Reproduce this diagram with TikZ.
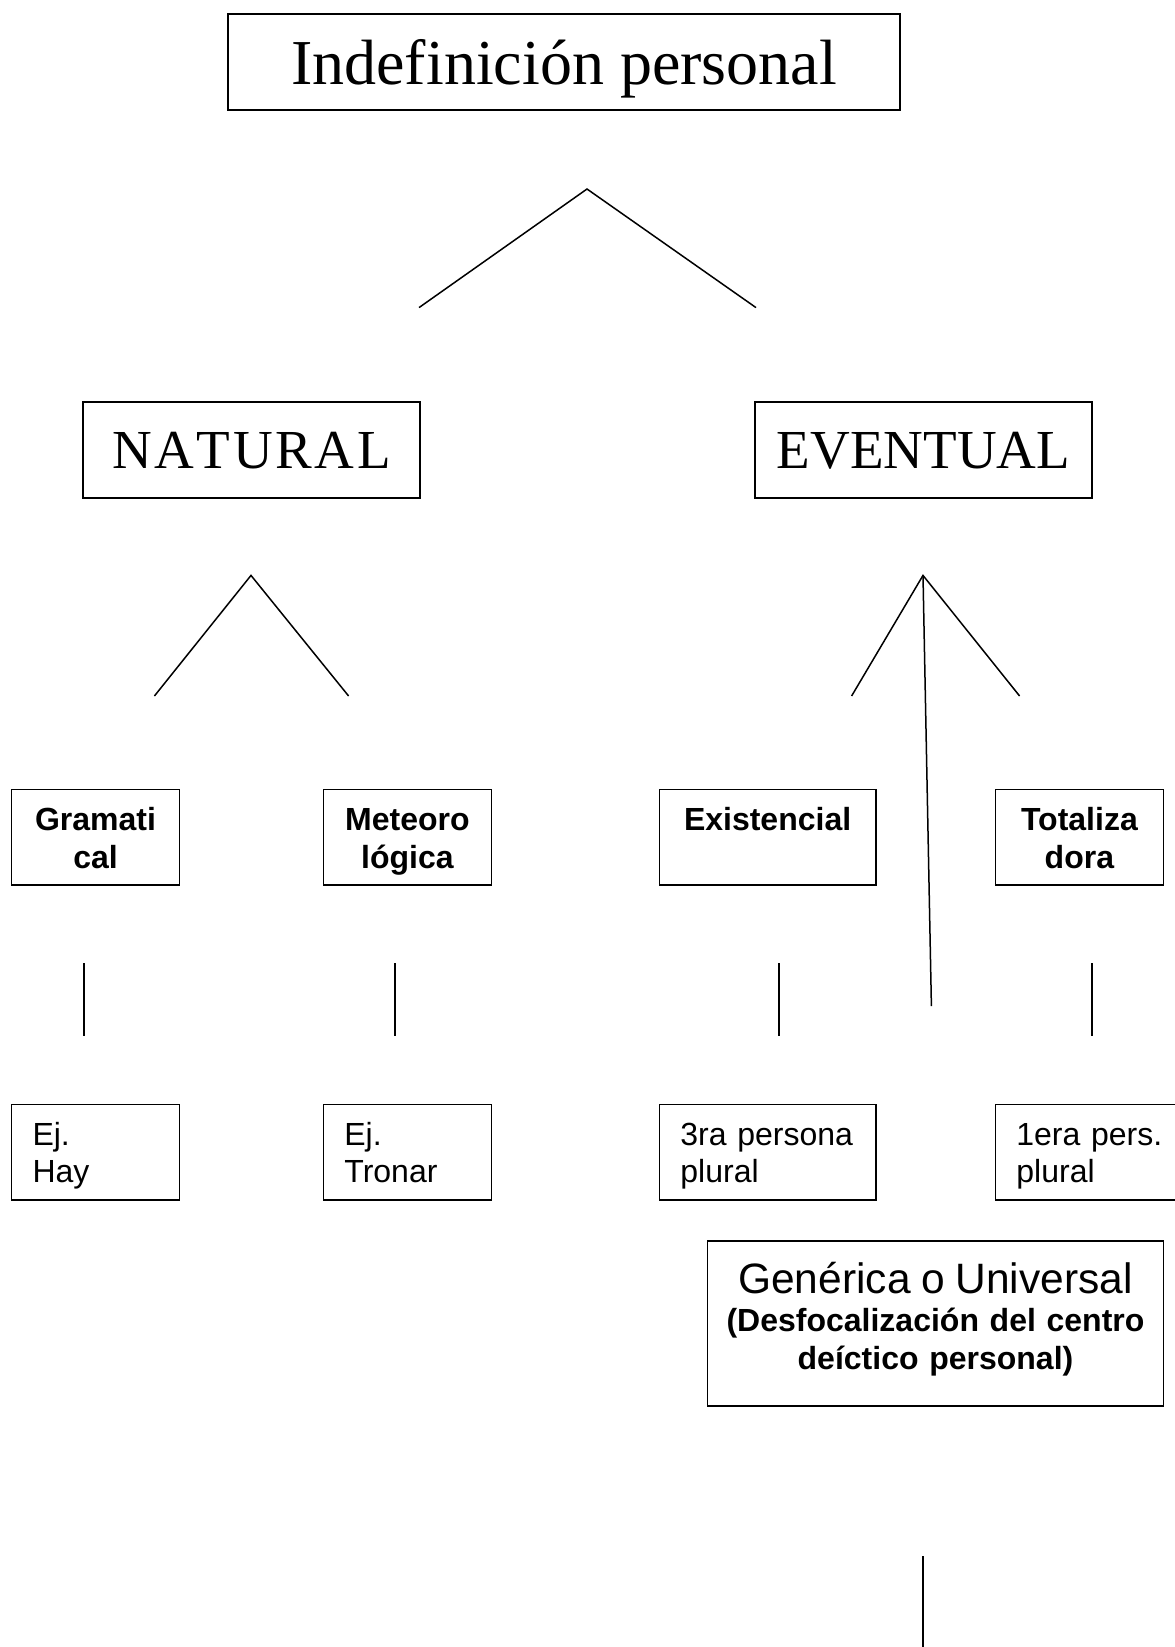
\documentclass[tikz,border=0pt]{standalone}
\usepackage{fontspec}
\setmainfont{Liberation Serif}
\newfontfamily\arialf{Liberation Sans}
\newcommand{\lsp}{\kern2.6pt}
\begin{document}
\begin{tikzpicture}[x=1pt,y=-1pt,line width=1.6pt,
  box/.style={draw,rectangle,inner sep=0pt,line width=1.6pt},
  titlebox/.style={box,font=\fontsize{64}{77}\selectfont,text height=45pt,text depth=0pt},
  catbox/.style={box,font=\fontsize{55}{66}\selectfont,text height=37pt,text depth=0pt},
  subbox/.style={box,font=\arialf\bfseries\fontsize{32}{38}\selectfont,align=center,text depth=41pt},
  exbox/.style={box,font=\arialf\fontsize{32}{37}\selectfont,align=left,inner xsep=21pt,text depth=39.7pt},
  genbox/.style={box,font=\arialf\fontsize{32}{38}\selectfont,align=center,text depth=90.7pt},
  branch/.style={line width=1.5pt}
]
\clip (0,0) rectangle (1175,1647);
\fill[white] (0,0) rectangle (1175,1647);

% top
\node[titlebox,minimum width=672pt,minimum height=96pt] (title) at (564,62) {Indefinición personal};
\node[catbox,minimum width=337pt,minimum height=96pt] (nat) at (251.5,450) {N\lsp A\lsp T\lsp U\lsp R\lsp A\lsp L};
\node[catbox,minimum width=337pt,minimum height=96pt] (evt) at (923.5,450) {EVENTUAL};

% level 3
\node[subbox,text width=168pt,minimum height=95.6pt] (gram) at (95.5,837.4) {\strut Gramati\\\strut cal};
\node[subbox,text width=168pt,minimum height=95.6pt] (meteo) at (407.4,837.4) {\strut Meteoro\\\strut lógica};
\node[subbox,text width=216.3pt,minimum height=95.6pt] (exist) at (767.6,837.4) {\strut Existencial\\\strut};
\node[subbox,text width=168pt,minimum height=95.6pt] (total) at (1079.4,837.4) {\strut Totaliza\\\strut dora};

% level 4
\node[exbox,text width=126pt,minimum height=95.6pt] (hay) at (95.5,1152.4) {\strut Ej.\\\strut Hay};
\node[exbox,text width=126pt,minimum height=95.6pt] (tronar) at (407.4,1152.4) {\strut Ej.\\\strut Tronar};
\node[exbox,text width=174.3pt,minimum height=95.6pt] (tercera) at (767.6,1152.4) {\strut 3ra persona\\\strut plural};
\node[exbox,text width=160pt,minimum height=95.6pt] (primera) at (1096.4,1152.4) {\strut 1era pers.\\\strut plural};

% generic
\node[genbox,text width=455.7pt,minimum height=164.9pt] (gen) at (935.5,1323.5)
  {{\fontsize{42.5}{48}\selectfont Genérica o Universal}\\
   {\bfseries (Desfocalización del centro}\\
   {\bfseries deíctico personal)}};

% branch coordinates
\coordinate (t0) at (587,189);
\coordinate (t1) at (419,307.6);
\coordinate (t2) at (756,307.6);
\coordinate (n0) at (251,575.4);
\coordinate (n1) at (154.4,696);
\coordinate (n2) at (348.6,696);
\coordinate (e0) at (923,575.4);
\coordinate (e1) at (851.6,696);
\coordinate (e2) at (1019.6,696);
\coordinate (e3) at (931.4,1006);
\coordinate (g1) at (84,963);   \coordinate (g2) at (84,1036);
\coordinate (m1) at (395,963);  \coordinate (m2) at (395,1036);
\coordinate (x1) at (779,963);  \coordinate (x2) at (779,1036);
\coordinate (o1) at (1092,963); \coordinate (o2) at (1092,1036);
\coordinate (b1) at (923,1556); \coordinate (b2) at (923,1650);

\draw[branch] (t1) -- (t0) -- (t2);
\draw[branch] (n1) -- (n0) -- (n2);
\draw[branch] (e1) -- (e0) -- (e2);
\draw[branch] (e0) -- (e3);
\draw[branch] (g1) -- (g2);
\draw[branch] (m1) -- (m2);
\draw[branch] (x1) -- (x2);
\draw[branch] (o1) -- (o2);
\draw[branch] (b1) -- (b2);
\end{tikzpicture}
\end{document}
